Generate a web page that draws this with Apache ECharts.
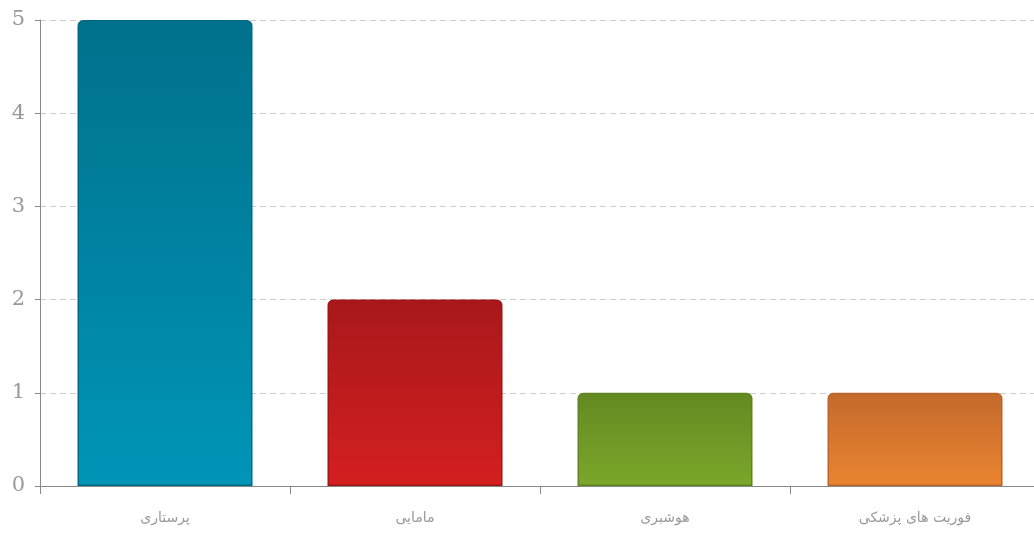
<!DOCTYPE html>
<html>
<head>
<meta charset="utf-8">
<script src="https://cdn.jsdelivr.net/npm/echarts@6/dist/echarts.min.js"></script>
<style>html,body{margin:0;padding:0;background:#fff;}#c{width:1034px;height:533px;}</style>
</head>
<body>
<div id="c"></div>
<script>
var categories = ['پرستاری', 'مامایی', 'هوشبری', 'فوریت های پزشکی'];
var values = [5, 2, 1, 1];
var topColors = ['#00718c', '#a8181a', '#638921', '#c36a2c'];
var bottomColors = ['#0095b7', '#d41f20', '#7ba72b', '#ea8431'];
var borderColors = ['#006a84', '#9e1616', '#5e8320', '#b9642a'];
var yTicks = [0, 1, 2, 3, 4, 5];

var chart = echarts.init(document.getElementById('c'), null, {renderer: 'canvas'});
var data = values.map(function (v, i) {
  return {
    value: v,
    itemStyle: {
      color: new echarts.graphic.LinearGradient(0, 0, 0, 1, [
        {offset: 0, color: topColors[i]},
        {offset: 1, color: bottomColors[i]}
      ]),
      borderColor: borderColors[i],
      borderWidth: 1.5,
      borderRadius: [5, 5, 0, 0]
    }
  };
});
chart.setOption({
  animation: false,
  grid: {left: 40, width: 1000, top: 20, bottom: 47, containLabel: false, outerBoundsMode: 'none'},
  xAxis: {
    type: 'category',
    data: categories,
    axisLine: {lineStyle: {color: '#888', width: 1}},
    axisTick: {show: true, length: 8, lineStyle: {color: '#888'}},
    axisLabel: {color: '#999', fontSize: 14, fontFamily: 'DejaVu Sans', margin: 25}
  },
  yAxis: {
    type: 'value',
    min: yTicks[0],
    max: yTicks[yTicks.length - 1],
    interval: 1,
    axisLine: {show: true, lineStyle: {color: '#888', width: 1}},
    axisTick: {show: true, length: 5, lineStyle: {color: '#888'}},
    axisLabel: {color: '#999', fontSize: 21, fontFamily: 'DejaVu Serif', margin: 15},
    splitLine: {show: true, lineStyle: {color: '#ccc', type: [6, 4]}}
  },
  series: [{
    type: 'bar',
    data: data,
    barWidth: '70%'
  }]
});
</script>
</body>
</html>
